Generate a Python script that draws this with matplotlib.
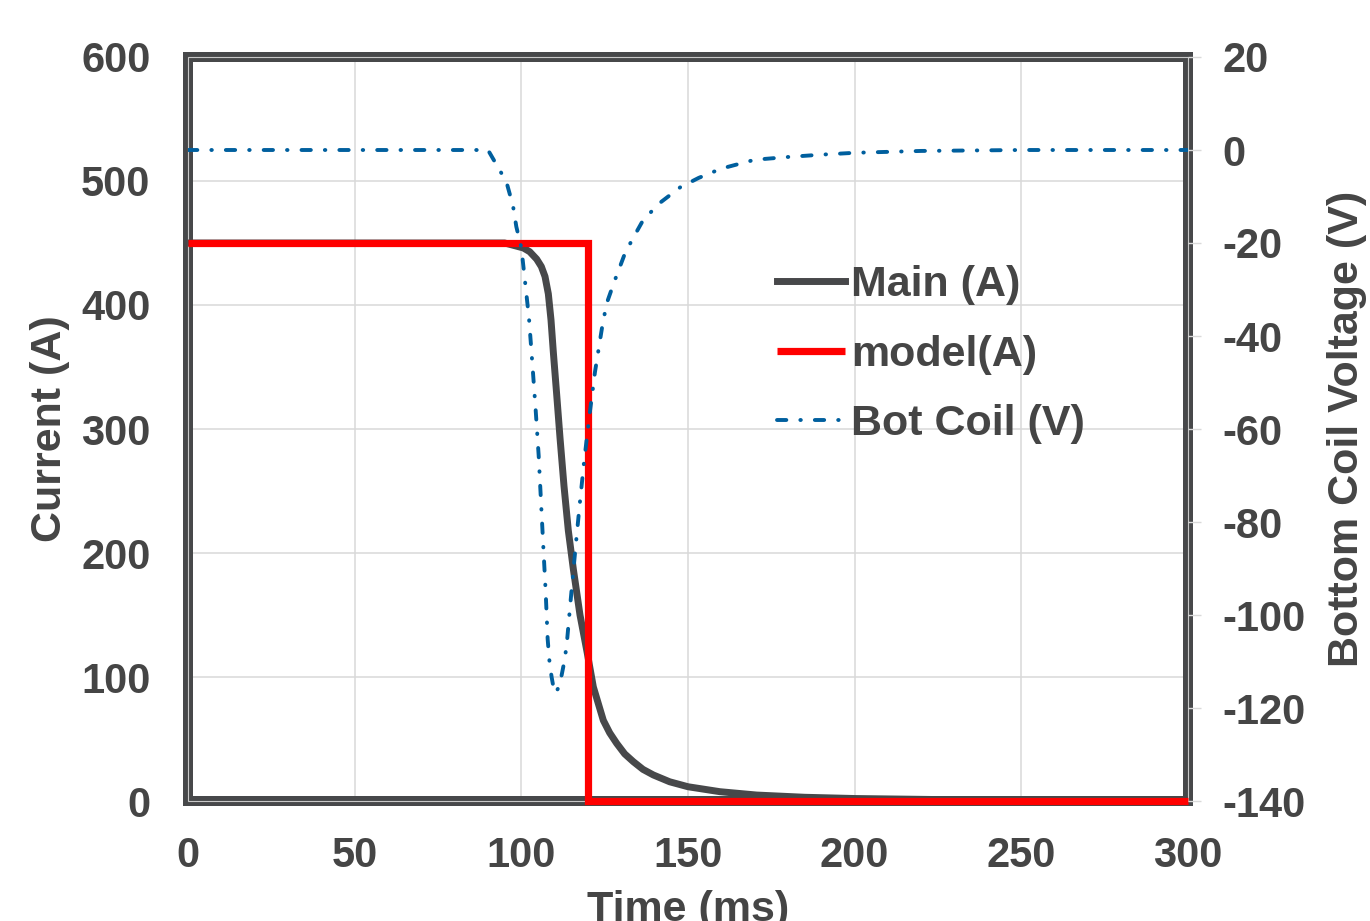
import matplotlib
matplotlib.use("Agg")
import matplotlib.pyplot as plt
from matplotlib.patches import Rectangle

# ---- data ----
main_t = [0, 95, 100.6, 102.5, 104.6, 106, 107.1, 108.1, 108.9, 109.6, 110.6, 111.6, 112.8,
          114.1, 115.6, 117.6, 119.8, 121.6, 124.6, 126.5, 128.6, 131, 133.6, 136.5, 139.6,
          144.5, 150, 159.6, 170.6, 185, 200, 230, 260, 300]
main_I = [450, 450, 446, 443, 437, 431, 423, 409, 388, 362, 328, 293, 254,
          218, 187, 150, 119, 92, 65, 55, 46.5, 38, 31.7, 25.5, 21,
          15.5, 11.5, 7.5, 4.8, 3, 2, 1, 0.5, 0.3]

model_t = [0, 120, 120, 300]
model_I = [450, 450, 0, 0]

coil_t = [0, 90, 92.5, 95.5, 97.5, 98.5, 100, 100.8, 102.3, 103.3,
          104.3, 105.2, 105.9, 106.6, 107.3, 107.9, 108.5, 109.1, 109.7, 110.3,
          111.2, 112.1, 112.9, 113.6, 114.8, 116.1, 117.4, 118.8, 120.4, 122.1,
          124.3, 125.6, 127.9, 131.1, 133.4, 136.6, 141.7, 147.7, 153.2, 160,
          170, 180, 190, 200, 220, 250, 300]
coil_V = [0, 0, -3.1, -6.8, -12, -16.5, -21, -26.2, -36.2, -45.9,
          -55.9, -65.7, -75.6, -85.4, -95, -105.2, -110.5, -113.4, -115.8, -116.8,
          -115.5, -112.9, -110, -106.5, -96.8, -86.7, -77, -67.2, -57.3, -47.7,
          -37.8, -33, -28.3, -22.2, -19.1, -15, -11.3, -8, -6, -4,
          -2.1, -1.5, -1, -0.6, -0.2, 0, 0]

x_ticks = [0, 50, 100, 150, 200, 250, 300]
y1_ticks = [0, 100, 200, 300, 400, 500, 600]
y2_ticks = [20, 0, -20, -40, -60, -80, -100, -120, -140]

labels = ["Main (A)", "model(A)", "Bot Coil (V)"]

# ---- style ----
TXT = "#454545"
FRAME = "#47484a"
GRAY = "#47484a"
RED = "#ff0000"
BLUE = "#005f9e"
GRID = "#d9d9d9"
FS = 30
LFS = 31

plt.rcParams["font.family"] = ["Liberation Sans", "DejaVu Sans"]
plt.rcParams["font.weight"] = "bold"
plt.rcParams["axes.unicode_minus"] = False

fig = plt.figure(figsize=(13.70, 9.21), dpi=100)
ax = fig.add_axes([188/1370, 1 - 801/921, 1000/1370, 744/921])
ax2 = ax.twinx()

l1, = ax.plot(main_t, main_I, color=GRAY, lw=5.0, zorder=3, solid_joinstyle="round")
l2, = ax.plot(model_t, model_I, color=RED, lw=5.2, zorder=3.2, clip_on=False,
              solid_joinstyle="miter", solid_capstyle="butt")
l3, = ax2.plot(coil_t, coil_V, color=BLUE, lw=2.8, linestyle=(0, (2.4, 3.6, 0.13, 3.6)),
               dash_capstyle="round", zorder=3)

ax.set_xlim(0, 300)
ax.set_ylim(0, 600)
ax2.set_ylim(-140, 20)
ax.set_xticks(x_ticks)
ax.set_yticks(y1_ticks)
ax2.set_yticks(y2_ticks)

ax.grid(True, color=GRID, lw=1.1)
ax.set_axisbelow(True)

for s in ax.spines.values():
    s.set_linewidth(7.2)
    s.set_color(FRAME)
    s.set_capstyle("projecting")
for s in ax2.spines.values():
    s.set_visible(False)
ax.add_patch(Rectangle((0, 0), 1, 1, transform=ax.transAxes, fill=False,
                       lw=0.8, edgecolor="#c8c8c8", zorder=2.6, clip_on=False))

ax.tick_params(axis="both", length=0, labelsize=FS, labelcolor=TXT)
ax.tick_params(axis="y", pad=27)
ax.tick_params(axis="x", pad=25)
ax2.tick_params(axis="y", direction="out", length=9, width=1.0, color=GRID,
                labelsize=FS, labelcolor=TXT, pad=16)

ax.set_xlabel("Time (ms)", fontsize=LFS, color=TXT, fontweight="bold", labelpad=10)
ax.set_ylabel("Current (A)", fontsize=LFS, color=TXT, fontweight="bold", labelpad=8)
ax2.set_ylabel("Bottom Coil Voltage (V)", fontsize=LFS, color=TXT, fontweight="bold", labelpad=15)

leg = ax2.legend([l1, l2, l3], labels, loc="center left",
                 bbox_to_anchor=(0.589, 0.600), frameon=False, fontsize=LFS,
                 handlelength=1.58, handletextpad=0.15, labelspacing=0.68,
                 borderpad=0, borderaxespad=0)
for t in leg.get_texts():
    t.set_color(TXT)

fig.savefig("out.png", dpi=100)
